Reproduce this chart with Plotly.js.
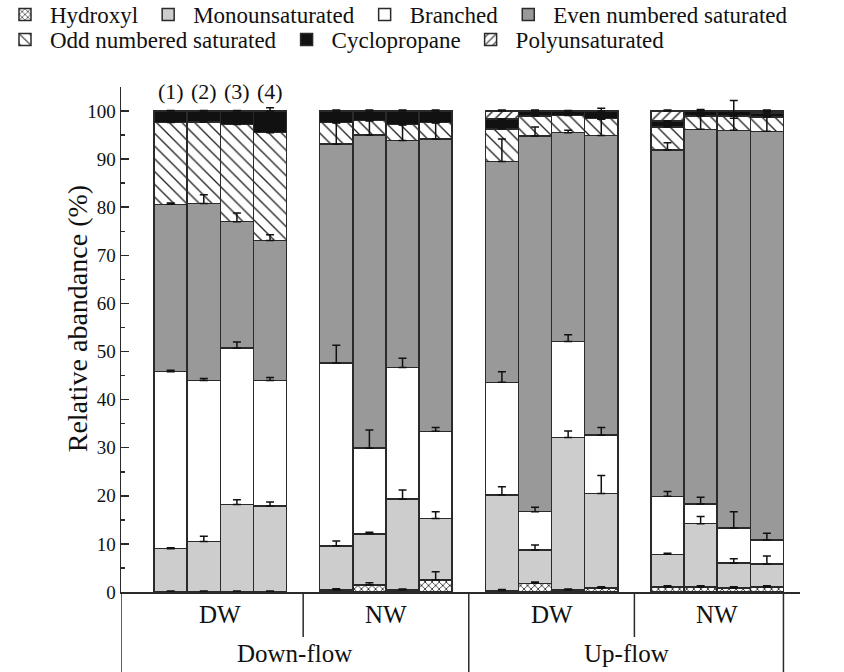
<!DOCTYPE html>
<html>
<head>
<meta charset="utf-8">
<script src="https://cdn.plot.ly/plotly-3.0.1.min.js"></script>
<style>html,body{margin:0;padding:0;background:#fff}</style>
</head>
<body>
<div id="chart" style="width:844px;height:672px"></div>
<script>
// ---- data ----
const flows = ['Down-flow', 'Up-flow'];
const groups = ['DW', 'NW', 'DW', 'NW'];
const barLabels = ['(1)', '(2)', '(3)', '(4)'];
const yTitle = 'Relative abandance (%)';

const hydroxyl   = [0.1, 0.1, 0.1, 0.1,  0.4, 1.5, 0.4, 2.5,  0.3, 1.8, 0.4, 0.8,  1.0, 1.0, 0.8, 1.0];
const monounsat  = [8.9, 10.4, 18.1, 17.8,  9.2, 10.6, 18.9, 12.8,  19.9, 6.95, 31.7, 19.7,  6.85, 13.2, 5.2, 4.8];
const branched   = [36.8, 33.5, 32.5, 26.1,  38.0, 17.8, 27.4, 18.1,  23.4, 7.95, 20.0, 12.1,  12.05, 4.1, 7.3, 5.0];
const evenSat    = [34.8, 36.8, 26.3, 29.1,  45.5, 65.1, 47.2, 60.8,  45.9, 78.1, 43.4, 62.3,  72.0, 77.9, 82.7, 85.0];
const oddSat     = [17.0, 16.9, 20.2, 22.4,  4.5, 3.0, 3.3, 3.4,  6.8, 4.2, 3.6, 3.5,  4.8, 2.8, 3.0, 3.0];
const cyclo      = [2.4, 2.3, 2.8, 4.5,  2.4, 2.0, 2.8, 2.4,  2.0, 1.0, 0.9, 1.6,  1.2, 1.0, 1.0, 0.8];
const polyunsat  = [0, 0, 0, 0,  0, 0, 0, 0,  1.7, 0, 0, 0,  2.1, 0, 0, 0.4];

// error bars (upper part)
const errHydroxyl  = [0.1, 0.1, 0.1, 0.1,  0.3, 0.4, 0.2, 1.7,  0.2, 0.3, 0.2, 0.3,  0.3, 0.3, 0.3, 0.3];
const errMono      = [0.2, 1.1, 1.0, 0.8,  1.0, 0.3, 1.9, 1.4,  1.7, 1.0, 1.4, 3.7,  0.2, 1.5, 0.9, 1.7];
const errBranched  = [0.3, 0.4, 1.3, 0.6,  3.7, 3.8, 1.9, 0.8,  2.2, 0.9, 1.4, 1.6,  1.0, 1.4, 3.4, 1.4];
const errEven      = [0.3, 1.8, 1.8, 1.2,  4.4, 3.0, 3.2, 3.3,  4.7, 1.9, 0.5, 3.4,  1.5, 2.8, 3.0, 3.0];
const errOdd       = [0.2, 0.2, 0.2, 0.2,  0.2, 0.2, 0.2, 0.2,  0.2, 0.2, 0.2, 0.2,  0.2, 0.2, 0.2, 0.2];
const errCyclo     = [0.1, 0.1, 0.1, 0.7,  0.2, 0.2, 0.2, 0.2,  0.1, 0.2, 0.1, 0.6,  0.1, 0.3, 2.2, 0.3];
const errCycloLow  = [0, 0, 0, 0,  0, 0, 0, 0,  0, 0, 0, 0,  0, 0, 1.5, 0];
const errPoly      = [0, 0, 0, 0,  0, 0, 0, 0,  0.2, 0, 0, 0,  0.2, 0, 0, 0.2];

// ---- layout helpers ----
const perGroup = barLabels.length;
const slot = perGroup + 1;
const xPos = [];
groups.forEach((g, gi) => { for (let i = 0; i < perGroup; i++) xPos.push(gi * slot + i + 0.5); });

const FONT = 'Liberation Serif';
const edge = '#2a2a2a';

const series = [
  {name: 'Hydroxyl', v: hydroxyl, e: errHydroxyl, color: '#ffffff', legend: 'legend', pattern: {shape: 'x', fgcolor: '#222', bgcolor: '#ffffff', size: 5, solidity: 0.3}},
  {name: 'Monounsaturated', v: monounsat, e: errMono, color: '#cdcdcd', legend: 'legend'},
  {name: 'Branched', v: branched, e: errBranched, color: '#ffffff', legend: 'legend'},
  {name: 'Even numbered saturated', v: evenSat, e: errEven, color: '#999999', legend: 'legend'},
  {name: 'Odd numbered saturated', v: oddSat, e: errOdd, color: '#ffffff', legend: 'legend2', pattern: {shape: '\\', fgcolor: '#222', bgcolor: '#ffffff', size: 9, solidity: 0.15}},
  {name: 'Cyclopropane', v: cyclo, e: errCyclo, em: errCycloLow, color: '#111111', legend: 'legend2'},
  {name: 'Polyunsaturated', v: polyunsat, e: errPoly, color: '#ffffff', legend: 'legend2', pattern: {shape: '/', fgcolor: '#222', bgcolor: '#ffffff', size: 7, solidity: 0.2}}
];

const traces = [];
series.forEach(s => {
  const marker = {color: s.color, line: {color: edge, width: 1.5}};
  if (s.pattern) marker.pattern = s.pattern;
  traces.push({type: 'bar', name: s.name, legend: s.legend, x: xPos, y: s.v, width: 1, marker: marker, hoverinfo: 'skip'});
});

// error bars drawn above all bars, at the top of each stacked segment
const cum = xPos.map(() => 0);
series.forEach(s => {
  const ys = [];
  s.v.forEach((v, i) => { cum[i] += v; ys.push(v > 0 ? cum[i] : null); });
  traces.push({
    type: 'scatter', mode: 'markers', x: xPos, y: ys, showlegend: false, hoverinfo: 'skip',
    marker: {size: 1, opacity: 0},
    error_y: {type: 'data', symmetric: false, array: s.e, arrayminus: s.em || s.e.map(() => 0),
              color: '#111', thickness: 1.5, width: 4}
  });
});

// ---- category box under the axis ----
const W = 844, H = 672;
const M = {l: 121, r: 44, t: 87, b: 80, autoexpand: false};
const plotW = W - M.l - M.r, plotH = H - M.t - M.b;
const xMin = -1, xMax = groups.length * slot - 0.5;
const boxBottom = -M.b / plotH, subBottom = -45 / plotH;
const shapes = [];
const lineStyle = {color: edge, width: 1.5};
shapes.push({type: 'line', xref: 'x', yref: 'paper', x0: xMin, x1: xMin, y0: 0, y1: boxBottom, line: lineStyle});
shapes.push({type: 'line', xref: 'x', yref: 'paper', x0: xMax - 0.5, x1: xMax - 0.5, y0: 0, y1: boxBottom, line: lineStyle});
for (let gi = 1; gi < groups.length; gi++) {
  const xd = gi * slot - 0.5;
  const full = (gi % (groups.length / flows.length)) === 0;
  shapes.push({type: 'line', xref: 'x', yref: 'paper', x0: xd, x1: xd, y0: 0, y1: full ? boxBottom : subBottom, line: lineStyle});
}

const annotations = [];
groups.forEach((g, gi) => {
  annotations.push({text: g, xref: 'x', yref: 'paper', x: gi * slot + perGroup / 2, y: -22 / plotH,
    showarrow: false, xanchor: 'center', yanchor: 'middle', font: {family: FONT, size: 25, color: '#111'}});
});
const perFlow = groups.length / flows.length;
flows.forEach((f, fi) => {
  const left = fi === 0 ? xMin : fi * perFlow * slot - 0.5;
  const right = fi === flows.length - 1 ? xMax - 0.5 : (fi + 1) * perFlow * slot - 0.5;
  annotations.push({text: f, xref: 'x', yref: 'paper', x: (left + right) / 2, y: -61 / plotH,
    showarrow: false, xanchor: 'center', yanchor: 'middle', font: {family: FONT, size: 25, color: '#111'}});
});
barLabels.forEach((b, i) => {
  annotations.push({text: b, xref: 'x', yref: 'paper', x: xPos[i], y: (M.t + plotH - 91) / plotH,
    showarrow: false, xanchor: 'center', yanchor: 'middle', font: {family: FONT, size: 22, color: '#111'}});
});
annotations.push({text: yTitle, textangle: -90, xref: 'paper', yref: 'paper', x: -44 / plotW, y: 0.54,
  showarrow: false, xanchor: 'center', yanchor: 'middle', font: {family: FONT, size: 28, color: '#111'}});

const legendBase = {orientation: 'h', xanchor: 'left', yanchor: 'top',
  font: {family: FONT, size: 23, color: '#111'}, itemwidth: 40, tracegroupgap: 0,
  bgcolor: 'rgba(0,0,0,0)', traceorder: 'normal'};

const layout = {
  width: W, height: H,
  margin: M,
  paper_bgcolor: '#fff', plot_bgcolor: '#fff',
  barmode: 'stack', bargap: 0,
  font: {family: FONT, color: '#111'},
  showlegend: true,
  legend: Object.assign({}, legendBase, {x: -M.l / plotW, y: 1 + (M.t + 7) / plotH}),
  legend2: Object.assign({}, legendBase, {x: -M.l / plotW, y: 1 + (M.t - 18) / plotH}),
  xaxis: {range: [xMin, xMax], showline: true, linecolor: edge, linewidth: 1.5, automargin: false,
    showticklabels: false, ticks: '', showgrid: false, zeroline: false, fixedrange: true},
  yaxis: {range: [0, 105], tick0: 0, dtick: 10, ticks: 'inside', ticklen: 8, tickwidth: 1.5, tickcolor: edge,
    showline: true, linecolor: edge, linewidth: 1.5, showgrid: false, zeroline: false, automargin: false,
    minor: {dtick: 5, ticks: 'inside', ticklen: 4, tickwidth: 1.5, tickcolor: edge},
    tickfont: {family: FONT, size: 19, color: '#111'}},
  shapes: shapes,
  annotations: annotations
};

Plotly.newPlot('chart', traces, layout, {displayModeBar: false, staticPlot: true});
</script>
</body>
</html>
